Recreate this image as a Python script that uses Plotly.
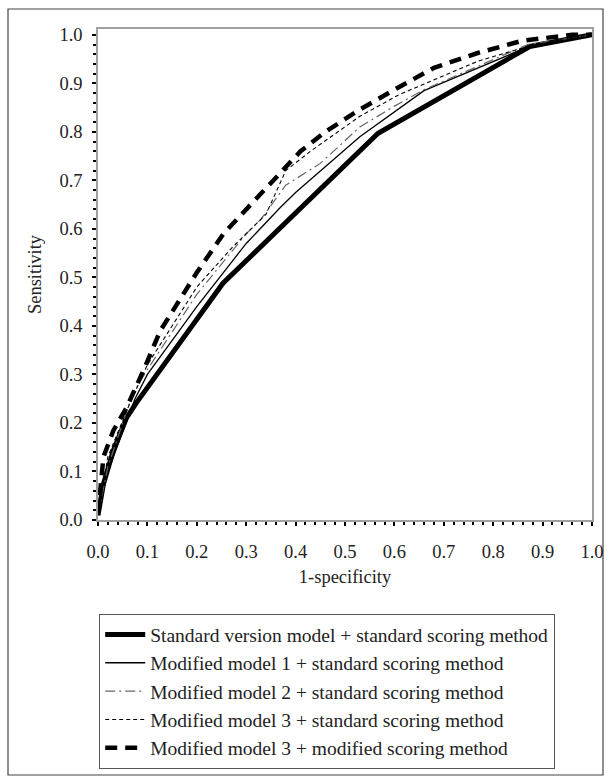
import plotly.graph_objects as go

# ---- data ----
names = [
    "Standard version model + standard scoring method",
    "Modified model 1 + standard scoring method",
    "Modified model 2 + standard scoring method",
    "Modified model 3 + standard scoring method",
    "Modified model 3 + modified scoring method",
]

std_x = [0.0, 0.011, 0.031, 0.058, 0.078, 0.253, 0.567, 0.874, 1.0]
std_y = [0.01, 0.074, 0.143, 0.211, 0.242, 0.488, 0.797, 0.976, 1.0]

m1_x = [0.0, 0.02, 0.075, 0.1, 0.2, 0.3, 0.37, 0.4, 0.53, 0.66, 0.87, 1.0]
m1_y = [0.01, 0.10, 0.25, 0.30, 0.44, 0.57, 0.645, 0.675, 0.79, 0.885, 0.975, 1.0]

m2_x = [0.0, 0.02, 0.07, 0.1, 0.2, 0.3, 0.33, 0.38, 0.45, 0.53, 0.6, 0.66, 0.87, 1.0]
m2_y = [0.01, 0.11, 0.26, 0.31, 0.465, 0.59, 0.62, 0.69, 0.735, 0.81, 0.853, 0.887, 0.98, 1.0]

m3s_x = [0.0, 0.02, 0.06, 0.1, 0.2, 0.27, 0.34, 0.38, 0.43, 0.53, 0.61, 0.69, 0.77, 0.85, 0.93, 1.0]
m3s_y = [0.01, 0.13, 0.23, 0.32, 0.48, 0.56, 0.63, 0.72, 0.76, 0.832, 0.877, 0.911, 0.946, 0.97, 0.99, 1.0]

m3m_x = [0.0, 0.011, 0.031, 0.058, 0.092, 0.126, 0.152, 0.2, 0.254, 0.318, 0.382, 0.41, 0.46,
         0.53, 0.6, 0.68, 0.77, 0.86, 0.96, 1.0]
m3m_y = [0.01, 0.13, 0.184, 0.232, 0.308, 0.39, 0.432, 0.51, 0.59, 0.659, 0.731, 0.76, 0.80,
         0.846, 0.887, 0.932, 0.963, 0.988, 1.0, 1.0]

tick_vals = [0.0, 0.1, 0.2, 0.3, 0.4, 0.5, 0.6, 0.7, 0.8, 0.9, 1.0]
tick_text = ["0.0", "0.1", "0.2", "0.3", "0.4", "0.5", "0.6", "0.7", "0.8", "0.9", "1.0"]

series = [
    (std_x, std_y, dict(color="black", width=5, dash="solid")),
    (m1_x, m1_y, dict(color="black", width=1.3, dash="solid")),
    (m2_x, m2_y, dict(color="#666666", width=1.2, dash="10px,4px,2px,4px")),
    (m3s_x, m3s_y, dict(color="black", width=1.1, dash="4px,3px")),
    (m3m_x, m3m_y, dict(color="black", width=4.5, dash="12px,8px")),
]

FONT = "Liberation Serif, Times New Roman, serif"

fig = go.Figure()
for i, (xs, ys, ln) in enumerate(series):
    fig.add_trace(go.Scatter(x=xs, y=ys, mode="lines", name=names[i], line=ln,
                             legendgroup="g%d" % i, showlegend=True))

W, H = 611, 781
L, R, T, B = 98, 19, 29, 261
pw, ph = W - L - R, H - T - B

def px_to_paper_x(px):
    return (px - L) / pw

def px_to_paper_y(py):
    return (H - B - py) / ph

axis_common = dict(
    showline=True, linecolor="#a0a0a0", linewidth=1.5, mirror=True,
    ticks="outside", ticklen=4, tickwidth=1.5, tickcolor="black",
    showgrid=False, zeroline=False,
    tickvals=tick_vals, ticktext=tick_text,
    tickfont=dict(family=FONT, size=18.5, color="#222"),
    minor=dict(ticks="outside", ticklen=3, tickwidth=1.5, tickcolor="black", dtick=0.02, showgrid=False),
)

fig.update_layout(
    width=W, height=H,
    margin=dict(l=L, r=R, t=T, b=B, autoexpand=False),
    paper_bgcolor="white", plot_bgcolor="white",
    font=dict(family=FONT, size=18, color="#222"),
    xaxis=dict(range=[0, 1.0], title=dict(text="1-specificity", font=dict(family=FONT, size=18.5), standoff=9),
               ticklabelstandoff=10, **axis_common),
    yaxis=dict(range=[0, 1.012], title=dict(text="Sensitivity", font=dict(family=FONT, size=18.5), standoff=13),
               ticklabelstandoff=6, **axis_common),
    legend=dict(
        x=px_to_paper_x(99), y=px_to_paper_y(614), xanchor="left", yanchor="top",
        bordercolor="#555", borderwidth=1.2, bgcolor="white",
        font=dict(family=FONT, size=19.5, color="#222"),
        traceorder="grouped", tracegroupgap=0, itemwidth=40,
    ),
    shapes=[dict(type="rect", xref="paper", yref="paper",
                 x0=px_to_paper_x(8), x1=px_to_paper_x(603),
                 y0=px_to_paper_y(775), y1=px_to_paper_y(9),
                 line=dict(color="#444", width=1.2), fillcolor="rgba(0,0,0,0)", layer="below")],
    showlegend=True,
)

fig.write_html("out.html", config={"displayModeBar": False},
               post_script="document.body.style.margin='0';document.body.style.padding='0';")
